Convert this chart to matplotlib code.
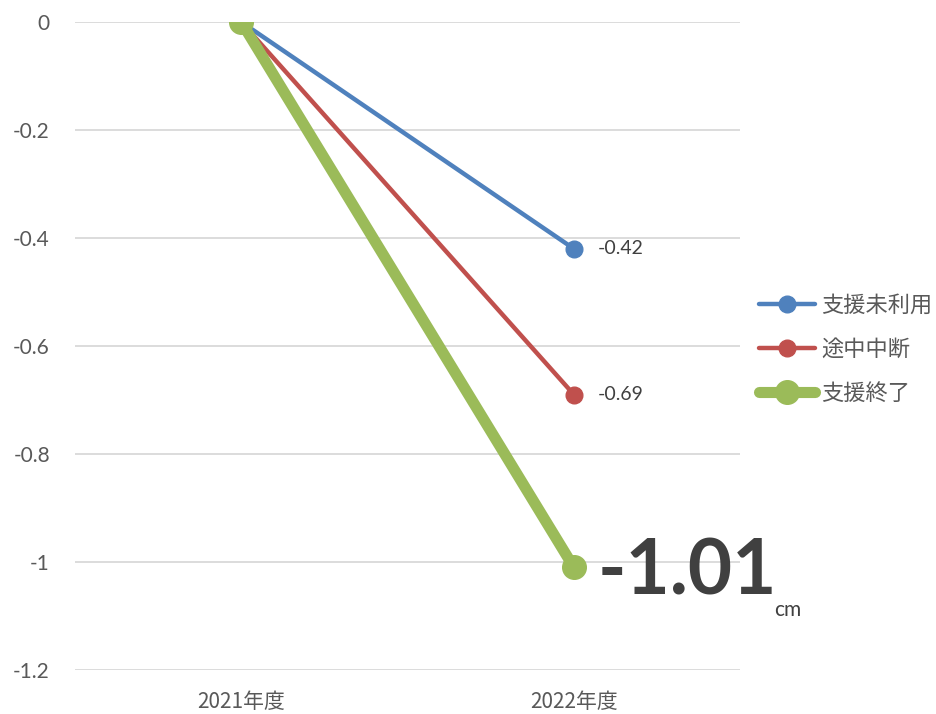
import matplotlib.pyplot as plt

plt.rcParams['font.family'] = ['Noto Sans CJK JP', 'DejaVu Sans']

years = ["2021年度", "2022年度"]
series_names = ["支援未利用", "途中中断", "支援終了"]
values_unused = [0, -0.42]
values_stopped = [0, -0.69]
values_finished = [0, -1.01]
yticks = [0, -0.2, -0.4, -0.6, -0.8, -1, -1.2]

colors = ["#4F81BD", "#C0504D", "#9BBB59"]
widths = [3.2, 3.2, 8]
msizes = [12, 12, 17]

fig = plt.figure(figsize=(9.37, 7.14), dpi=100)
ax = fig.add_axes([0.080, 0.0616, 0.710, 0.9076])

x = list(range(len(years)))
all_values = [values_unused, values_stopped, values_finished]
handles = []
for name, vals, c, lw, ms in zip(series_names, all_values, colors, widths, msizes):
    h, = ax.plot(x, vals, color=c, lw=lw, marker='o', ms=ms, label=name,
                 solid_capstyle='round')
    handles.append(h)

# data labels at 2022
for vals in all_values[:2]:
    ax.annotate("{:.2f}".format(vals[1]), (1, vals[1]), xytext=(17, 0),
                textcoords='offset points', va='center', ha='left',
                fontsize=14, color='#404040', family=['Lato', 'DejaVu Sans'])
ax.annotate("{:.2f}".format(values_finished[1]), (1, values_finished[1]),
            xytext=(17, -4), textcoords='offset points', va='center', ha='left',
            fontsize=55, fontweight='bold', color='#404040',
            family=['Lato', 'DejaVu Sans'])
ax.annotate("cm", (1, values_finished[1]), xytext=(144, -31),
            textcoords='offset points', va='center', ha='left',
            fontsize=15, color='#404040', family=['Lato', 'DejaVu Sans'])

ax.set_xlim(-0.5, 1.5)
ax.set_ylim(-1.2, 0)
ax.set_yticks(yticks)
ax.set_yticklabels([("%g" % v) for v in yticks])
ax.set_xticks(x)
ax.set_xticklabels(years)
ax.grid(axis='y', color='#D9D9D9', lw=1.3)
ax.set_axisbelow(True)
for s in ax.spines.values():
    s.set_visible(False)
ax.tick_params(length=0, labelsize=15, colors='#595959')
ax.tick_params(axis='y', pad=18)
ax.tick_params(axis='x', pad=15)
for lab in ax.get_yticklabels():
    lab.set_family(['Lato', 'DejaVu Sans'])

fig.legend(handles=handles, loc='center left', bbox_to_anchor=(0.81, 0.511),
           frameon=False, fontsize=16, handlelength=2.5, labelspacing=0.95,
           handletextpad=0.3, borderpad=0, borderaxespad=0,
           labelcolor='#595959')

fig.savefig("out.png", dpi=100)
